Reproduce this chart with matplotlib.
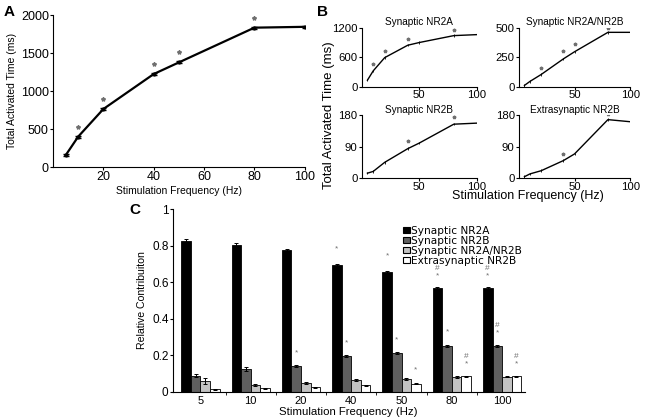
import numpy as np
import matplotlib
matplotlib.use('Agg')
import matplotlib.pyplot as plt
from matplotlib.patches import Patch

plt.rcParams['font.family'] = ['Liberation Sans', 'DejaVu Sans']
plt.rcParams['font.size'] = 8

# ---- data ---------------------------------------------------------------
freq = [5, 10, 20, 40, 50, 80, 100]

# panel A: total activated time (ms)
totalTime = [156, 402, 765, 1225, 1378, 1835, 1846]
starFreqA = [10, 20, 40, 50, 80]
starValA = [527, 901, 1354, 1516, 1965]

# panel B: per receptor type
bTitles = ['Synaptic NR2A', 'Synaptic NR2A/NR2B', 'Synaptic NR2B', 'Extrasynaptic NR2B']
bValues = [
    [137, 325, 594, 845, 900, 1040, 1060],
    [13, 47, 105, 237, 297, 461, 461],
    [14, 19, 45, 84, 100, 154, 157],
    [4, 12, 21, 50, 69, 167, 161],
]
bStarFreq = [[10, 20, 40, 80], [20, 40, 50, 80], [40, 80], [40, 80]]
bStarVal = [[456, 731, 969, 1144], [158, 303, 363, 500], [106, 175], [69, 183]]
bYticks = [[0, 600, 1200], [0, 250, 500], [0, 90, 180], [0, 90, 180]]

# panel C: relative contribution
freqLabels = ['5', '10', '20', '40', '50', '80', '100']
relNR2A = [0.824, 0.805, 0.775, 0.695, 0.658, 0.567, 0.569]
relNR2B = [0.089, 0.124, 0.142, 0.195, 0.213, 0.253, 0.251]
relNR2AB = [0.060, 0.038, 0.049, 0.064, 0.071, 0.082, 0.082]
relExtra = [0.015, 0.020, 0.024, 0.036, 0.045, 0.085, 0.085]
errNR2A = [0.015, 0.010, 0.005, 0.005, 0.006, 0.006, 0.005]
errNR2B = [0.010, 0.010, 0.006, 0.005, 0.005, 0.006, 0.005]
errNR2AB = [0.015, 0.005, 0.005, 0.004, 0.004, 0.004, 0.003]
errExtra = [0.003, 0.003, 0.003, 0.002, 0.003, 0.003, 0.003]
# significance marks: (group index, series index, y, text)
sigMarks = [
    (3, 0, 0.78, '*'), (4, 0, 0.742, '*'), (5, 0, 0.635, '*'), (5, 0, 0.675, '#'),
    (6, 0, 0.635, '*'), (6, 0, 0.675, '#'),
    (2, 1, 0.215, '*'), (3, 1, 0.267, '*'), (4, 1, 0.287, '*'), (5, 1, 0.327, '*'),
    (6, 1, 0.325, '*'), (6, 1, 0.365, '#'),
    (4, 3, 0.12, '*'), (5, 3, 0.155, '*'), (5, 3, 0.195, '#'),
    (6, 3, 0.155, '*'), (6, 3, 0.195, '#'),
]

starCol = '#707070'

def clean(ax):
    ax.spines['top'].set_visible(False)
    ax.spines['right'].set_visible(False)
    ax.tick_params(direction='out', length=2, width=0.8, pad=1)

fig = plt.figure(figsize=(6.47, 4.20), dpi=100)

# ---- panel A ------------------------------------------------------------
axA = fig.add_axes([0.082, 0.602, 0.389, 0.362])
axA.errorbar(freq, totalTime, yerr=12, color='k', lw=1.6, marker='o', ms=2, capsize=2, elinewidth=0.8)
axA.plot(starFreqA, starValA, ls='none', marker='*', ms=3, color=starCol)
axA.set_xlim(0, 100)
axA.set_ylim(0, 2000)
axA.set_xticks([20, 40, 60, 80, 100])
axA.set_yticks([0, 500, 1000, 1500, 2000])
clean(axA)
axA.tick_params(labelsize=9)
axA.set_xlabel('Stimulation Frequency (Hz)', fontsize=7.5, labelpad=2)
axA.set_ylabel('Total Activated Time (ms)', fontsize=7.5, labelpad=3)
fig.text(0.005, 0.962, 'A', fontsize=11, fontweight='bold')

# ---- panel B ------------------------------------------------------------
bPos = [[0.559, 0.793, 0.178, 0.141], [0.802, 0.793, 0.172, 0.141],
        [0.559, 0.576, 0.178, 0.150], [0.802, 0.576, 0.172, 0.150]]
for i in range(4):
    ax = fig.add_axes(bPos[i])
    ax.errorbar(freq, bValues[i], yerr=bYticks[i][2] * 0.02, color='k', lw=1, capsize=0, elinewidth=0.6)
    ax.plot(bStarFreq[i], bStarVal[i], ls='none', marker='*', ms=2.5, color=starCol)
    ax.set_xlim(0, 100)
    ax.set_ylim(0, bYticks[i][2])
    ax.set_xticks([50, 100])
    ax.set_yticks(bYticks[i])
    clean(ax)
    ax.tick_params(labelsize=8.2)
    ax.tick_params(axis='x', pad=0.5)
    ax.set_title(bTitles[i], fontsize=7.2, pad=2 if i < 2 else -2)
fig.text(0.508, 0.726, 'Total Activated Time (ms)', rotation=90, fontsize=9.5, ha='center', va='center')
fig.text(0.816, 0.533, 'Stimulation Frequency (Hz)', fontsize=9, ha='center', va='center')
fig.text(0.49, 0.962, 'B', fontsize=11, fontweight='bold')

# ---- panel C ------------------------------------------------------------
axC = fig.add_axes([0.267, 0.067, 0.544, 0.435])
x = np.arange(len(freqLabels))
w = 0.19
series = [relNR2A, relNR2B, relNR2AB, relExtra]
errs = [errNR2A, errNR2B, errNR2AB, errExtra]
colors = ['#000000', '#5f5f5f', '#c2c2c2', '#ffffff']
names = ['Synaptic NR2A', 'Synaptic NR2B', 'Synaptic NR2A/NR2B', 'Extrasynaptic NR2B']
offs = [-1.5 * w, -0.5 * w, 0.5 * w, 1.5 * w]
for s in range(4):
    axC.bar(x + offs[s], series[s], w, yerr=errs[s], color=colors[s], edgecolor='k', linewidth=0.6,
            error_kw=dict(elinewidth=0.7, capsize=1.2, capthick=0.7, ecolor='k'))
for g, s, yv, t in sigMarks:
    axC.text(x[g] + offs[s], yv, t, ha='center', va='center', fontsize=6, color=starCol)
axC.set_xlim(-0.55, 6.45)
axC.set_ylim(0, 1)
axC.set_xticks(x)
axC.set_xticklabels(freqLabels)
axC.set_xticks(x[:-1] + 0.5, minor=True)
axC.tick_params(axis='x', which='major', length=0, labelsize=8, pad=3)
axC.tick_params(axis='x', which='minor', length=2, direction='out')
axC.set_yticks([0, 0.2, 0.4, 0.6, 0.8, 1])
axC.set_yticklabels(['0', '0.2', '0.4', '0.6', '0.8', '1'])
axC.tick_params(axis='y', labelsize=8.5, length=2, direction='out', pad=1)
axC.spines['top'].set_visible(False)
axC.spines['right'].set_visible(False)
axC.set_xlabel('Stimulation Frequency (Hz)', fontsize=8.2, labelpad=1)
axC.set_ylabel('Relative Contribuiton', fontsize=7.6, labelpad=4)
handles = [Patch(facecolor=colors[s], edgecolor='k', linewidth=0.8) for s in range(4)]
axC.legend(handles, names, loc='upper left', bbox_to_anchor=(0.655, 0.91), frameon=False,
           handlelength=0.6, handleheight=0.6, handletextpad=0.15, labelspacing=0.0,
           borderaxespad=0, borderpad=0, prop={'family': 'DejaVu Sans', 'size': 7.6})
fig.text(0.2, 0.49, 'C', fontsize=11, fontweight='bold')

fig.savefig('out.png', dpi=100)
